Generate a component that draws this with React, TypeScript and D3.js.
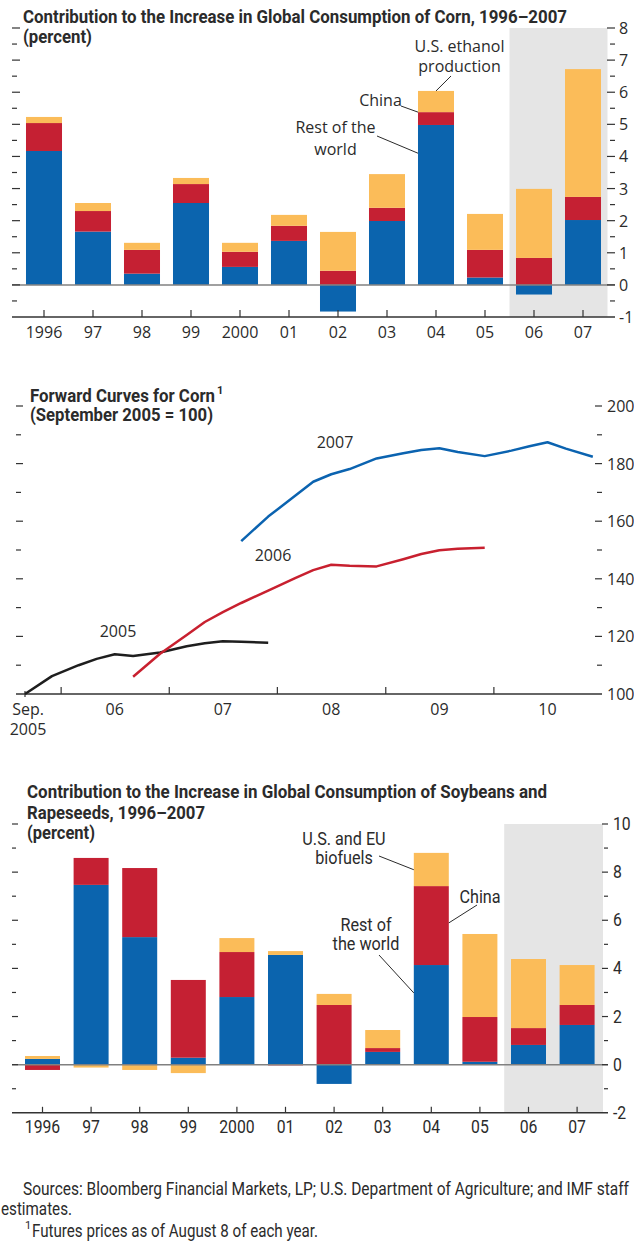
import React from "react";
import * as d3 from "d3";

// ---------- DATA ----------
const years = ["1996", "97", "98", "99", "2000", "01", "02", "03", "04", "05", "06", "07"];

// Corn (percent contribution)
const cornRestOfWorld = [4.17, 1.66, 0.35, 2.55, 0.56, 1.37, -0.83, 1.99, 4.98, 0.23, -0.3, 2.02];
const cornChina = [0.87, 0.64, 0.74, 0.59, 0.47, 0.47, 0.44, 0.41, 0.4, 0.86, 0.84, 0.72];
const cornEthanol = [0.19, 0.25, 0.22, 0.19, 0.28, 0.34, 1.21, 1.05, 0.66, 1.12, 2.15, 3.98];
const cornTickLabels = ["-1", "0", "1", "2", "3", "4", "5", "6", "7", "8"];

// Soybeans and rapeseeds (percent contribution)
const soyRestOfWorld = [0.24, 7.47, 5.3, 0.29, 2.81, 4.56, -0.8, 0.53, 4.14, 0.12, 0.82, 1.65];
const soyChina = [-0.22, 1.12, 2.87, 3.23, 1.87, -0.03, 2.48, 0.16, 3.28, 1.86, 0.7, 0.83];
const soyBiofuels = [0.12, -0.12, -0.22, -0.35, 0.58, 0.16, 0.46, 0.75, 1.38, 3.45, 2.87, 1.66];
const soyTickLabels = ["-2", "0", "2", "4", "6", "8", "10"];

// Forward curves (Sept 2005 = 100)
const curve2005Dates = ["2005-09", "2005-12", "2006-03", "2006-05", "2006-07", "2006-09", "2006-12", "2007-03", "2007-05", "2007-07", "2007-09", "2007-12"];
const curve2005Values = [100, 106.2, 110, 112.2, 113.8, 113.2, 114.4, 116.6, 117.6, 118.3, 118.1, 117.8];
const curve2006Dates = ["2006-09", "2006-12", "2007-03", "2007-05", "2007-07", "2007-09", "2007-12", "2008-03", "2008-05", "2008-07", "2008-09", "2008-12", "2009-03", "2009-05", "2009-07", "2009-09", "2009-12"];
const curve2006Values = [106, 114, 120.5, 125, 128.4, 131.6, 135.9, 140.2, 143, 144.9, 144.5, 144.3, 146.8, 148.6, 149.9, 150.4, 150.8];
const curve2007Dates = ["2007-09", "2007-12", "2008-03", "2008-05", "2008-07", "2008-09", "2008-12", "2009-03", "2009-05", "2009-07", "2009-09", "2009-12", "2010-03", "2010-05", "2010-07", "2010-09", "2010-12"];
const curve2007Values = [153.1, 161.6, 168.8, 173.7, 176.3, 178.1, 181.8, 183.6, 184.7, 185.3, 184, 182.6, 184.5, 186, 187.4, 185.2, 182.4];
const curveYearLabels = ["06", "07", "08", "09", "10"];
const curveTickLabels = ["100", "120", "140", "160", "180", "200"];

// ---------- STYLE ----------
const BLUE = "#0b64ae";
const RED = "#c52033";
const YELLOW = "#fbbc59";
const SHADE = "#e5e5e5";
const TEXT = "#2b2b2b";
const AXIS = "#333333";
const ZERO = "#808080";
const BOLD_FONT = "Roboto, 'Liberation Sans', sans-serif";
const HUM_FONT = "'Open Sans', 'Noto Sans', sans-serif";
const COND_FONT = "Roboto, 'Liberation Sans', sans-serif";
const COND_K = 0.9;

function stackRows(keys: string[], arrays: number[][]) {
  const rows = years.map((yr, i) => {
    const o: any = { year: yr };
    keys.forEach((k, j) => (o[k] = arrays[j][i]));
    return o;
  });
  return d3.stack().keys(keys).offset(d3.stackOffsetDiverging)(rows as any);
}

const parseMonth = d3.timeParse("%Y-%m");

function CText(props: any) {
  const { x, y, k, anchor, children, ...rest } = props;
  return (
    <text transform={`translate(${x},${y}) scale(${k},1)`} textAnchor={anchor || "start"} {...rest}>
      {children}
    </text>
  );
}

function FitText(props: any) {
  const { x, y, w, children, ...rest } = props;
  return (
    <text x={x} y={y} textLength={w} lengthAdjust="spacingAndGlyphs" {...rest}>
      {children}
    </text>
  );
}

export default function App() {
  // ================= TOP: CORN =================
  const cx = d3.scaleBand<string>().domain(years).range([19.5, 607.5]).paddingInner(0.265).paddingOuter(0.1325);
  const cy = d3.scaleLinear().domain([-1, 8]).range([317, 28]);
  const cornStack = stackRows(["rest", "china", "ethanol"], [cornRestOfWorld, cornChina, cornEthanol]);
  const colors = [BLUE, RED, YELLOW];
  const cornHalfTicks = d3.range(-0.5, 8.01, 0.5);
  const c04 = cx("04")!;
  const cShadeX = cx("06")! + cx.bandwidth() / 2 - cx.step() / 2;

  // ================= MIDDLE: FORWARD CURVES =================
  const tx = d3.scaleTime().domain([new Date(2005, 8, 1), new Date(2011, 0, 1)]).range([25, 602]);
  const ty = d3.scaleLinear().domain([100, 200]).range([694, 406]);
  const line = d3
    .line<[Date, number]>()
    .x((d) => tx(d[0]))
    .y((d) => ty(d[1]));
  const curves = [
    { dates: curve2005Dates, values: curve2005Values, color: "#1e1e1e" },
    { dates: curve2006Dates, values: curve2006Values, color: "#c8202f" },
    { dates: curve2007Dates, values: curve2007Values, color: "#0b63b0" },
  ];
  const yearStarts = d3.range(2006, 2011).map((y) => new Date(y, 0, 1));
  const midYears = d3.range(2006, 2011).map((y) => new Date(y, 6, 1));
  const curveTicks = d3.range(110, 200.1, 10);

  // ================= BOTTOM: SOY =================
  const sx = d3.scaleBand<string>().domain(years).range([18.2, 601.4]).paddingInner(0.28).paddingOuter(0.14);
  const sy = d3.scaleLinear().domain([-2, 10]).range([1112.8, 824]);
  const soyStack = stackRows(["rest", "china", "bio"], [soyRestOfWorld, soyChina, soyBiofuels]);
  const soyTicks = d3.range(-1, 10.01, 1);
  const s04 = sx("04")!;
  const sShadeX = sx("06")! + sx.bandwidth() / 2 - sx.step() / 2;

  return (
    <svg
      width={634}
      height={1241}
      viewBox="0 0 634 1241"
      style={{ position: "absolute", left: 0, top: 0, background: "#fff", display: "block" }}
    >
      <rect x={0} y={0} width={634} height={1241} fill="#fff" />

      {/* ================= TOP CHART ================= */}
      <g>
        <rect x={cShadeX} y={cy(8)} width={cx.range()[1] - cShadeX} height={cy(-1) - cy(8)} fill={SHADE} />
        <g fontFamily={BOLD_FONT} fontWeight="bold" fontSize={18} fill={TEXT}>
          <FitText x={23} y={23} w={544}>Contribution to the Increase in Global Consumption of Corn, 1996–2007</FitText>
          <FitText x={23} y={43} w={69}>(percent)</FitText>
        </g>
        {cornStack.map((layer, li) =>
          layer.map((d, i) => (
            <rect
              key={`c${li}-${i}`}
              x={cx(years[i])}
              width={cx.bandwidth()}
              y={cy(Math.max(d[0], d[1]))}
              height={Math.abs(cy(d[0]) - cy(d[1]))}
              fill={colors[li]}
            />
          ))
        )}
        <line x1={12} x2={615} y1={cy(0)} y2={cy(0)} stroke={ZERO} strokeWidth={1.5} />
        <line x1={12} x2={615} y1={cy(-1)} y2={cy(-1)} stroke={AXIS} strokeWidth={1.5} />
        {cornHalfTicks.map((t) => {
          const major = Number.isInteger(t);
          return (
            <g key={`ct${t}`}>
              <line x1={12} x2={major ? 20 : 17} y1={cy(t)} y2={cy(t)} stroke={AXIS} strokeWidth={1.2} />
              <line x1={major ? 607 : 610} x2={615} y1={cy(t)} y2={cy(t)} stroke={AXIS} strokeWidth={1.2} />
            </g>
          );
        })}
        {cornTickLabels.map((lab) => (
          <text key={`cl${lab}`} x={619} y={cy(+lab) + 6} fontFamily={HUM_FONT} fontSize={16} fill={TEXT}>
            {lab}
          </text>
        ))}
        {years.map((yr) => {
          const c = cx(yr)! + cx.bandwidth() / 2;
          return (
            <g key={`cx${yr}`}>
              <line x1={c} x2={c} y1={cy(-1) - 7} y2={cy(-1)} stroke={AXIS} strokeWidth={1.2} />
              <text x={c} y={cy(-1) + 21} textAnchor="middle" fontFamily={HUM_FONT} fontSize={16} fill={TEXT}>
                {yr}
              </text>
            </g>
          );
        })}
        {/* annotations */}
        <text fontFamily={HUM_FONT} fontSize={16} fill={TEXT} textAnchor="middle">
          <tspan x={459.5} y={52}>U.S. ethanol</tspan>
          <tspan x={459.5} y={72}>production</tspan>
        </text>
        <text x={380.5} y={106} fontFamily={HUM_FONT} fontSize={16} fill={TEXT} textAnchor="middle">
          China
        </text>
        <text fontFamily={HUM_FONT} fontSize={16} fill={TEXT} textAnchor="middle">
          <tspan x={335.5} y={133}>Rest of the</tspan>
          <tspan x={335.5} y={155}>world</tspan>
        </text>
        <line x1={451} y1={76} x2={c04 + cx.bandwidth() / 2} y2={cy(6.04)} stroke={TEXT} strokeWidth={1} />
        <line x1={401} y1={106} x2={c04} y2={cy(5.38)} stroke={TEXT} strokeWidth={1} />
        <line x1={377} y1={136} x2={c04} y2={cy(4.1)} stroke={TEXT} strokeWidth={1} />
      </g>

      {/* ================= MIDDLE CHART ================= */}
      <g>
        <g fontFamily={BOLD_FONT} fontWeight="bold" fontSize={18} fill={TEXT}>
          <text x={30} y={402}>
            <tspan textLength={185} lengthAdjust="spacingAndGlyphs">Forward Curves for Corn</tspan>
            <tspan dx={2} dy={-8} fontSize={11}>1</tspan>
          </text>
          <FitText x={30} y={421} w={183}>(September 2005 = 100)</FitText>
        </g>
        <line x1={16} x2={602} y1={ty(100)} y2={ty(100)} stroke={AXIS} strokeWidth={1.5} />
        {curveTicks.map((t) => {
          const major = t % 20 === 0;
          return (
            <g key={`tt${t}`}>
              <line x1={16} x2={major ? 23 : 21} y1={ty(t)} y2={ty(t)} stroke={AXIS} strokeWidth={1.2} />
              <line x1={major ? 595 : 597} x2={602} y1={ty(t)} y2={ty(t)} stroke={AXIS} strokeWidth={1.2} />
            </g>
          );
        })}
        {curveTickLabels.map((lab) => (
          <text key={`tl${lab}`} x={607} y={ty(+lab) + 6} fontFamily={HUM_FONT} fontSize={16} fill={TEXT}>
            {lab}
          </text>
        ))}
        {yearStarts.map((d, i) => (
          <line key={`ys${i}`} x1={tx(d)} x2={tx(d)} y1={ty(100) - 7} y2={ty(100)} stroke={AXIS} strokeWidth={1.2} />
        ))}
        <line x1={tx(new Date(2005, 8, 1))} x2={tx(new Date(2005, 8, 1))} y1={ty(100) - 3} y2={ty(100) + 3} stroke={AXIS} strokeWidth={1.2} />
        {midYears.map((d, i) => (
          <text key={`my${i}`} x={tx(d)} y={715} textAnchor="middle" fontFamily={HUM_FONT} fontSize={16} fill={TEXT}>
            {curveYearLabels[i]}
          </text>
        ))}
        <text fontFamily={HUM_FONT} fontSize={16} fill={TEXT} textAnchor="middle">
          <tspan x={28} y={715}>Sep.</tspan>
          <tspan x={28} y={735}>2005</tspan>
        </text>
        {curves.map((c, i) => (
          <path
            key={`cv${i}`}
            d={line(c.dates.map((s, j) => [parseMonth(s)!, c.values[j]] as [Date, number]))!}
            fill="none"
            stroke={c.color}
            strokeWidth={2.5}
            strokeLinejoin="round"
          />
        ))}
        <text x={118} y={637} textAnchor="middle" fontFamily={HUM_FONT} fontSize={16} fill={TEXT}>2005</text>
        <text x={273} y={561} textAnchor="middle" fontFamily={HUM_FONT} fontSize={16} fill={TEXT}>2006</text>
        <text x={335} y={448} textAnchor="middle" fontFamily={HUM_FONT} fontSize={16} fill={TEXT}>2007</text>
      </g>

      {/* ================= BOTTOM CHART ================= */}
      <g>
        <rect x={sShadeX} y={sy(10)} width={603 - sShadeX} height={sy(-2) - sy(10)} fill={SHADE} />
        <g fontFamily={BOLD_FONT} fontWeight="bold" fontSize={18} fill={TEXT}>
          <FitText x={27} y={798} w={520}>Contribution to the Increase in Global Consumption of Soybeans and</FitText>
          <FitText x={27} y={819} w={178}>Rapeseeds, 1996–2007</FitText>
          <FitText x={27} y={839} w={68}>(percent)</FitText>
        </g>
        {soyStack.map((layer, li) =>
          layer.map((d, i) => (
            <rect
              key={`s${li}-${i}`}
              x={sx(years[i])}
              width={sx.bandwidth()}
              y={sy(Math.max(d[0], d[1]))}
              height={Math.abs(sy(d[0]) - sy(d[1]))}
              fill={colors[li]}
            />
          ))
        )}
        <line x1={12} x2={608} y1={sy(0)} y2={sy(0)} stroke={ZERO} strokeWidth={1.5} />
        <line x1={12} x2={608} y1={sy(-2)} y2={sy(-2)} stroke={AXIS} strokeWidth={1.5} />
        {soyTicks.map((t) => {
          const major = t % 2 === 0;
          return (
            <g key={`st${t}`}>
              <line x1={12} x2={major ? 18 : 16} y1={sy(t)} y2={sy(t)} stroke={AXIS} strokeWidth={1.2} />
              <line x1={major ? 602 : 604} x2={608} y1={sy(t)} y2={sy(t)} stroke={AXIS} strokeWidth={1.2} />
            </g>
          );
        })}
        {soyTickLabels.map((lab) => (
          <CText key={`sl${lab}`} x={613} y={sy(+lab) + 6} k={COND_K} fontFamily={COND_FONT} fontSize={17.5} fill={TEXT}>
            {lab}
          </CText>
        ))}
        {years.map((yr) => {
          const c = sx(yr)! + sx.bandwidth() / 2;
          return (
            <g key={`sx${yr}`}>
              <line x1={c} x2={c} y1={sy(-2) - 6} y2={sy(-2)} stroke={AXIS} strokeWidth={1.2} />
              <CText x={c} y={sy(-2) + 20.5} k={COND_K} anchor="middle" fontFamily={COND_FONT} fontSize={17.5} fill={TEXT}>
                {yr}
              </CText>
            </g>
          );
        })}
        <g fontFamily={COND_FONT} fontSize={18} fill={TEXT}>
          <CText x={344} y={845} k={0.9} anchor="middle">U.S. and EU</CText>
          <CText x={344} y={864} k={0.9} anchor="middle">biofuels</CText>
          <CText x={480} y={903} k={0.9} anchor="middle">China</CText>
          <CText x={366} y={931} k={0.9} anchor="middle">Rest of</CText>
          <CText x={366} y={950} k={0.9} anchor="middle">the world</CText>
        </g>
        <line x1={379} y1={856} x2={s04} y2={sy(8.1)} stroke={TEXT} strokeWidth={1} />
        <line x1={477} y1={905} x2={s04 + sx.bandwidth()} y2={sy(5.89)} stroke={TEXT} strokeWidth={1} />
        <line x1={379} y1={955} x2={s04} y2={sy(2.98)} stroke={TEXT} strokeWidth={1} />
      </g>

      {/* ================= FOOTER ================= */}
      <g fontFamily={COND_FONT} fontSize={17.5} fill={TEXT}>
        <FitText x={23} y={1195} w={606}>Sources: Bloomberg Financial Markets, LP; U.S. Department of Agriculture; and IMF staff</FitText>
        <FitText x={1} y={1215} w={71}>estimates.</FitText>
        <text x={25} y={1229} fontSize={11}>1</text>
        <FitText x={32} y={1237} w={286}>Futures prices as of August 8 of each year.</FitText>
      </g>
    </svg>
  );
}
